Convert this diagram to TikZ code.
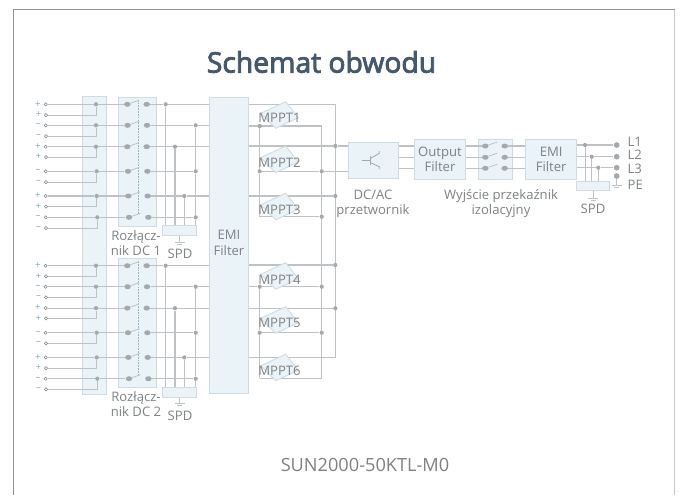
\documentclass[tikz,border=0pt]{standalone}
\usepackage{fontspec}
\setmainfont{Open Sans}
\newfontfamily\titlefont[BoldFont={Open Sans}, BoldFeatures={FakeBold=3}]{Open Sans}
\usepackage{xcolor}
\usetikzlibrary{positioning, arrows.meta, shapes.geometric, calc}
\definecolor{boxfill}{HTML}{E9F3F8}
\definecolor{boxline}{HTML}{CFDBE2}
\definecolor{wirecol}{HTML}{BFC2C4}
\definecolor{dotcol}{HTML}{A6A9AB}
\definecolor{txtcol}{HTML}{7E8284}
\definecolor{titlecol}{HTML}{45596E}
\definecolor{signcol}{HTML}{7FAAC2}

\begin{document}
\begin{tikzpicture}[x=0.02cm, y=-0.02cm,
    blockbox/.style={draw=boxline, fill=boxfill, line width=0.6pt, inner sep=0pt},
    wire/.style={draw=wirecol, line width=0.65pt},
    fine/.style={draw=wirecol, line width=0.45pt},
    junc/.style={circle, fill=dotcol, inner sep=0pt, minimum size=0.085cm},
    swdot/.style={ellipse, fill=dotcol, inner sep=0pt, minimum width=0.13cm, minimum height=0.1cm},
    bigdot/.style={circle, fill=dotcol, inner sep=0pt, minimum size=0.115cm},
    port/.style={circle, draw=txtcol, fill=white, line width=0.3pt, inner sep=0pt, minimum size=0.065cm},
    sgn/.style={text=signcol, inner sep=0pt, font=\fontsize{5.5}{6}\selectfont},
    lbl/.style={text=txtcol, inner sep=0pt, align=center, font=\fontsize{7.45}{8.7}\selectfont},
    mpptbox/.style={draw=boxline, fill=boxfill, line width=0.5pt}]
    \useasboundingbox (0,0) rectangle (680,495);

    % Frame and titles
    \draw[draw=gray!85, line width=0.6pt] (13.5,495) -- (13.5,9.5) -- (674.5,9.5);
    \draw[draw=gray!45, line width=0.6pt] (674.5,9.5) -- (674.5,495);
    \node[text=titlecol, font=\fontsize{16.1}{18}\titlefont\bfseries, inner sep=0pt] (title) at (321.5,62) {Schemat obwodu};
    \node[text=txtcol, font=\fontsize{10.35}{12}\selectfont, inner sep=0pt] (model) at (365,465) {SUN2000-50KTL-M0};

    % Shared blocks
    \node[blockbox, minimum width=0.488cm, minimum height=5.96cm] (fuse) at (94.5,245.3) {};
    \node[blockbox, minimum width=0.788cm, minimum height=5.912cm] (emiA) at (229,245.5) {};

    % DC input banks
    \foreach \bank/\off/\num in {A/0/1, B/161.4/2} {
        \begin{scope}[yshift=-\off*0.02cm]
            \node[blockbox, minimum width=0.768cm, minimum height=2.574cm] (sw\bank) at (137.5,161.7) {};
            \node[blockbox, minimum width=0.68cm, minimum height=0.2cm] (spd\bank) at (179.7,230.7) {};
            \draw[draw=signcol!85, dash pattern=on 1pt off 0.6pt, line width=0.4pt] (sw\bank.north) ++(0.5,3) coordinate (lnk\bank) -- ++(0,115);
            \foreach \i/\ya/\yb/\bx/\d/\jx/\s in {1/104.3/115/96/0/165.7/+, 2/125.3/136/96/0.3/195.7/--, 3/146.7/157/96/0/175/+,
                4/171.3/182/96.7/0.7/195.7/--, 5/196/206.7/96.7/1/184.3/+, 6/217.3/228/97.3/1.7/195.7/--} {
                \node[sgn] (sgn\bank\i a) at (38,\ya) {\s};
                \node[sgn] (sgn\bank\i b) at (38.5,\yb) {\s};
                \node[port] (in\bank\i a) at (45.7,\ya) {};
                \node[port] (in\bank\i b) at (46,\yb) {};
                \node[junc] (bus\bank\i) at (\bx,\ya) {};
                \node[swdot] (swl\bank\i) at (127.3+\d,\ya) {};
                \node[swdot] (swr\bank\i) at (146.7+\d,\ya) {};
                \node[junc] (j\bank\i) at (\jx,\ya) {};
                \draw[wire] (in\bank\i a) -- (bus\bank\i) -- (swl\bank\i);
                \draw[fine] (in\bank\i b) -| (bus\bank\i);
                \draw[fine] (swl\bank\i) -- ++(11.5,-4);
                \draw[wire] (swr\bank\i) -- (j\bank\i);
            }
            % Lines on to the filter and the surge device
            \foreach \i in {1,2,3,5} {
                \draw[wire] (j\bank\i) -- (emiA.west |- j\bank\i);
            }
            \foreach \i in {1,3,5} {
                \draw[wire] (j\bank\i) -- (j\bank\i |- spd\bank.north);
            }
            \draw[wire] (j\bank2) -- (j\bank4) -- (j\bank6) -- (j\bank6 |- spd\bank.north);
            \draw[fine] (spd\bank.south) -- ++(0,6) coordinate (gnd\bank);
            \draw[fine] (gnd\bank) ++(-5,0) -- ++(10,0);
            \draw[fine] (gnd\bank) ++(-2.5,2) -- ++(5,0);
            \node[lbl] (dc\bank) at (136,243) {Rozłącz-\\nik DC \num};
            \node[lbl] (spdlab\bank) at (180,254.3) {SPD};
        \end{scope}
    }
    \node[lbl] (emiAlab) at (229,243) {EMI\\Filter};

    % MPPT buses
    \node[blockbox, minimum width=1cm, minimum height=0.734cm] (dcac) at (373.3,160.6) {};
    \coordinate (posTop) at (335.3,104.3);
    \coordinate (posBot) at (335.3,357.3);
    \coordinate (negTop) at (321.7,126);
    \coordinate (negBot) at (321.7,378.3);
    \draw[wire] (emiA.east |- posTop) -- (posTop) -- (posBot) -- (emiA.east |- posBot);
    \draw[wire] (emiA.east |- negTop) -- (negTop) -- (negBot);
    \foreach \n/\y in {1/146, 2/196, 3/265, 4/308.3} {
        \node[junc] (pos\n) at (posTop |- 0,\y) {};
        \draw[wire] (emiA.east |- pos\n) -- (pos\n);
    }
    \draw[wire] (pos1) -- (dcac.west |- pos1);
    \foreach \n/\y in {1/171.3, 2/216.7, 3/286.7, 4/332.7} {
        \node[junc] (neg\n) at (negTop |- 0,\y) {};
    }
    \foreach \n/\y in {1/126, 2/171.3, 3/286.7, 4/332.7} {
        \node[junc] (left\n) at (259.7,\y) {};
    }
    \coordinate (leftA) at (259.7,216.7);
    \coordinate (leftB) at (259.7,378.3);
    \draw[wire] (left2) -- (neg1) -- (dcac.west |- neg1);
    \draw[fine] (leftA) -- (neg2);
    \draw[wire] (emiA.east |- left3) -- (left3) -- (neg3);
    \draw[wire] (left4) -- (neg4);
    \draw[fine] (leftB) -- (negBot);
    \draw[wire] (left1) -- (left2) -- (leftA);
    \draw[wire] (left3) -- (left4) -- (leftB);

    % MPPT modules
    \foreach \n/\dy in {1/0, 2/44.3, 3/91.5, 4/161, 5/205, 6/252.5} {
        \filldraw[mpptbox] (260.7,113.3+\dy) -- (285.7,101.7+\dy) -- (298.3,117.7+\dy) -- (275.7,128.3+\dy) -- cycle;
        \node[lbl] (mppt\n) at (279.5,118.3+\dy) {MPPT\n};
    }

    % Inverter bridge
    \draw[fine, draw=txtcol!70] (361.7,160.7) -- (370.7,160.7);
    \draw[fine, draw=txtcol!70] (370.7,156) -- (370.7,165);
    \draw[fine, draw=txtcol!70] (370.7,158.3) -- (379.3,153.3) -- (379.3,151);
    \draw[fine, draw=txtcol!70] (370.7,162.7) -- (379.3,166.7) -- (379.3,169);
    \node[lbl] (dcaclab) at (373,203.5) {DC/AC\\przetwornik};

    % AC output chain
    \node[blockbox, minimum width=1.028cm, minimum height=0.794cm] (outf) at (440,159.2) {};
    \node[blockbox, minimum width=0.68cm, minimum height=0.794cm] (relay) at (495.3,159.2) {};
    \node[blockbox, minimum width=1.02cm, minimum height=0.794cm] (emiB) at (551.2,159.2) {};
    \node[blockbox, minimum width=0.666cm, minimum height=0.172cm] (spdC) at (593.3,186) {};
    \foreach \n/\y/\ye/\jx in {1/146/145/585, 2/157.3/156.7/591.7, 3/168.3/167.7/598.3} {
        \draw[wire] (dcac.east |- 0,\y) -- (outf.west |- 0,\y);
        \node[swdot] (rl\n) at (485.3,\y) {};
        \node[swdot] (rr\n) at (504.7,\y) {};
        \draw[wire] (outf.east |- rl\n) -- (rl\n);
        \draw[fine] (rl\n) -- ++(12,-4);
        \draw[wire] (rr\n) -- (emiB.west |- rr\n);
        \node[junc] (ac\n) at (\jx,\ye) {};
        \node[bigdot] (L\n) at (616.7,\ye) {};
        \draw[wire] (emiB.east |- ac\n) -- (ac\n) -- (L\n);
        \draw[fine] (ac\n) -- (ac\n |- spdC.north);
    }
    \node[bigdot] (PE) at (616.7,176) {};
    \draw[fine] (PE) -- ++(0,9) coordinate (gndPE);
    \draw[fine] (gndPE) ++(-5,0) -- ++(10,0);
    \draw[fine] (gndPE) ++(-2.5,2.5) -- ++(5,0);
    \draw[fine] (spdC.south) -- ++(0,8) coordinate (gndC);
    \draw[fine] (gndC) ++(-5,0) -- ++(10,0);
    \draw[fine] (gndC) ++(-2.5,2) -- ++(5,0);

    % Output labels
    \node[lbl] (outflab) at (440,159.5) {Output\\Filter};
    \node[lbl] (emiBlab) at (551.2,159.5) {EMI\\Filter};
    \node[lbl] (relaylab) at (501,203.5) {Wyjście przekaźnik\\izolacyjny};
    \node[lbl] (spdlabC) at (593,209.3) {SPD};
    \node[lbl, anchor=west] (L1lab) at (627.3,141.7) {L1};
    \node[lbl, anchor=west] (L2lab) at (627.3,154.3) {L2};
    \node[lbl, anchor=west] (L3lab) at (627.3,169) {L3};
    \node[lbl, anchor=west] (PElab) at (627.3,185.3) {PE};
\end{tikzpicture}
\end{document}
